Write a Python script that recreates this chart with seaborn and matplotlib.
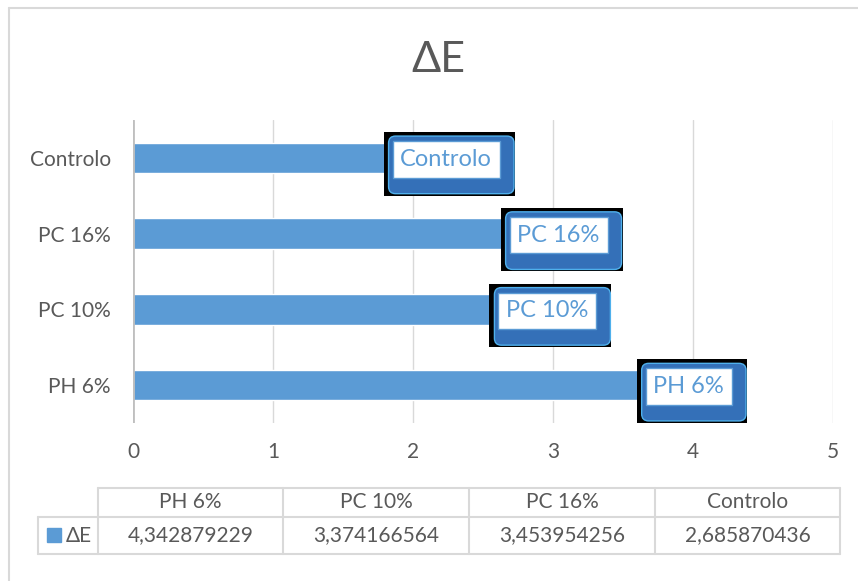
import matplotlib
matplotlib.use("Agg")
import matplotlib.pyplot as plt
from matplotlib.lines import Line2D
from matplotlib.patches import Rectangle, FancyBboxPatch
from matplotlib.transforms import IdentityTransform
import pandas as pd
import seaborn as sns

# Data
categories = ["Controlo", "PC 16%", "PC 10%", "PH 6%"]
delta_e = [2.685870436, 3.453954256, 3.374166564, 4.342879229]
table_order = ["PH 6%", "PC 10%", "PC 16%", "Controlo"]
x_ticks = [0, 1, 2, 3, 4, 5]
series_name = "ΔE"

BAR = "#5B9BD5"
TEXT = "#595959"
GRID = "#D9D9D9"
FS = 15
FS_LABEL = 17

sns.set_theme(style="white")
plt.rcParams["font.family"] = ["Lato", "DejaVu Sans"]

W, H = 858, 581
fig = plt.figure(figsize=(W / 100, H / 100), dpi=100)
fig.patch.set_facecolor("white")


def fx(px):
    return px / W


def fy(py):
    return 1 - py / H


# Outer chart frame
fig.add_artist(Line2D([fx(9), fx(9)], [fy(8), fy(H + 5)], color=GRID, lw=1.5,
                      transform=fig.transFigure))
fig.add_artist(Line2D([fx(9), fx(W + 5)], [fy(8), fy(8)], color=GRID, lw=1.5,
                      transform=fig.transFigure))

ax = fig.add_axes([fx(133), fy(423), fx(833) - fx(133), fy(120) - fy(423)])
df = pd.DataFrame({"grupo": categories, "dE": delta_e})
sns.barplot(data=df, x="dE", y="grupo", order=categories, color=BAR,
            width=0.4, saturation=1, ax=ax, zorder=2)

ax.set_xlim(0, 5)
ax.set_xticks(x_ticks)
ax.set_xlabel("")
ax.set_ylabel("")
for s in ax.spines.values():
    s.set_visible(False)
ax.grid(axis="x", color=GRID, lw=1)
ax.grid(axis="y", visible=False)
ax.set_axisbelow(True)
ax.axvline(0, color="#BFBFBF", lw=2, zorder=3)
ax.tick_params(axis="y", length=0, labelsize=FS, labelcolor=TEXT, pad=16)
ax.tick_params(axis="x", length=0, labelsize=FS, labelcolor=TEXT, pad=14)

# Data labels: white plate with the name, sitting on a raised blue frame
# over a dark backing
fs_px = FS_LABEL * 100 / 72
white_pad = 0.33
labels = []
for i, (cat, v) in enumerate(zip(categories, delta_e)):
    t = ax.annotate(cat, xy=(v, i), xytext=(-9 - white_pad * fs_px, -1.5),
                    textcoords="offset pixels", ha="right", va="center",
                    fontsize=FS_LABEL, color=BAR, zorder=7,
                    annotation_clip=False,
                    bbox=dict(boxstyle=f"square,pad={white_pad}", fc="white",
                              ec=BAR, lw=1))
    labels.append(t)

fig.canvas.draw()
for t in labels:
    bb = t.get_bbox_patch().get_window_extent()
    x0, x1, y0, y1 = bb.x0, bb.x1, bb.y0, bb.y1
    ax.add_patch(Rectangle((x0 - 9, y0 - 18), (x1 + 15) - (x0 - 9),
                           (y1 + 9) - (y0 - 18), fc="black", ec="none",
                           transform=IdentityTransform(), zorder=5,
                           clip_on=False))
    ax.add_patch(FancyBboxPatch((x0 - 4, y0 - 16), (x1 + 14) - (x0 - 4),
                                (y1 + 5) - (y0 - 16),
                                boxstyle="round,pad=0,rounding_size=7",
                                fc="#3470B8", ec="#4FB0EC", lw=1,
                                transform=IdentityTransform(), zorder=6,
                                clip_on=False))

# Title
fig.text(fx(438), fy(60), series_name, ha="center", va="center",
         fontsize=31, color=TEXT)

# Data table below the chart
col_edges = [98, 283, 469, 655, 840]
row_top, row_mid, row_bot = 488, 517, 554
leg_left = 38


def seg(x0, y0, x1, y1):
    fig.add_artist(Line2D([fx(x0), fx(x1)], [fy(y0), fy(y1)], color=GRID,
                          lw=1.5, transform=fig.transFigure))


seg(col_edges[0], row_top, col_edges[-1], row_top)
seg(leg_left, row_mid, col_edges[-1], row_mid)
seg(leg_left, row_bot, col_edges[-1], row_bot)
seg(leg_left, row_mid, leg_left, row_bot)
for xe in col_edges:
    seg(xe, row_top, xe, row_bot)

values = dict(zip(categories, delta_e))
for k, cat in enumerate(table_order):
    xc = (col_edges[k] + col_edges[k + 1]) / 2
    fig.text(fx(xc), fy((row_top + row_mid) / 2), cat, ha="center",
             va="center", fontsize=FS, color=TEXT)
    fig.text(fx(xc), fy((row_mid + row_bot) / 2),
             f"{values[cat]:.9f}".replace(".", ","), ha="center",
             va="center", fontsize=FS, color=TEXT)

fig.add_artist(Rectangle((fx(47), fy(542)), fx(14), fy(528) - fy(542),
                         color=BAR, transform=fig.transFigure))
fig.text(fx(66), fy((row_mid + row_bot) / 2), series_name, ha="left",
         va="center", fontsize=FS, color=TEXT)

fig.savefig("out.png", dpi=100, facecolor="white")
